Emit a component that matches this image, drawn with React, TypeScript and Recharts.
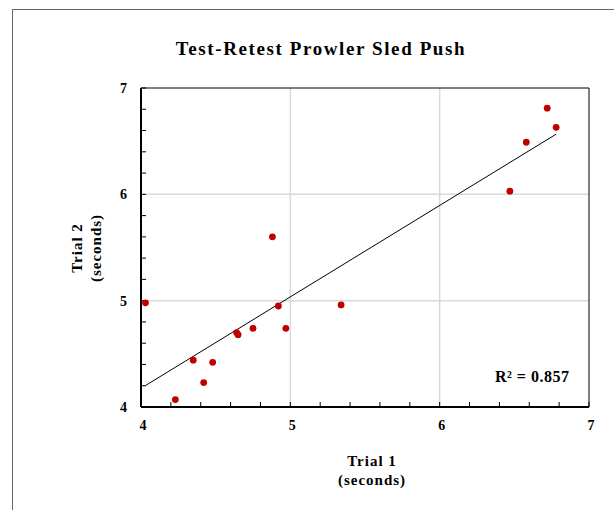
import React from 'react';
import { ScatterChart, Scatter, XAxis, YAxis, ReferenceLine } from 'recharts';

const trial1 = [4.03, 4.23, 4.35, 4.42, 4.48, 4.64, 4.65, 4.75, 4.88, 4.92, 4.97, 5.34, 6.47, 6.58, 6.72, 6.78];
const trial2 = [4.98, 4.07, 4.44, 4.23, 4.42, 4.70, 4.68, 4.74, 5.60, 4.95, 4.74, 4.96, 6.03, 6.49, 6.81, 6.63];

const xTicks = [4, 4.2, 4.4, 4.6, 4.8, 5, 5.2, 5.4, 5.6, 5.8, 6, 6.2, 6.4, 6.6, 6.8, 7];
const yTicks = [4, 4.2, 4.4, 4.6, 4.8, 5, 5.2, 5.4, 5.6, 5.8, 6, 6.2, 6.4, 6.6, 6.8, 7];
const gridValues = [5, 6];
const r2Label = 'R² = 0.857';

const FONT = '"Liberation Serif", "Times New Roman", serif';

const points = trial1.map((x, i) => ({ x, y: trial2[i] }));

// least squares fit for the trend line
const n = points.length;
const mx = trial1.reduce((a, b) => a + b, 0) / n;
const my = trial2.reduce((a, b) => a + b, 0) / n;
let sxy = 0;
let sxx = 0;
points.forEach(p => {
  sxy += (p.x - mx) * (p.y - my);
  sxx += (p.x - mx) * (p.x - mx);
});
const slope = sxy / sxx;
const intercept = my - slope * mx;
const xMin = Math.min(...trial1);
const xMax = Math.max(...trial1);
const trend = [
  { x: xMin, y: intercept + slope * xMin },
  { x: xMax, y: intercept + slope * xMax },
];

const isMajor = (v: number) => Math.abs(v - Math.round(v)) < 1e-6;

// ticks are drawn inward (tickSize < 0), so x/y here sit 5px inside the plot
const XTick = (props: any) => {
  const { x, y, payload } = props;
  return (
    <g>
      {isMajor(payload.value) && (
        <text x={x + 2} y={y + 28} textAnchor="middle" fontFamily={FONT} fontWeight="bold" fontSize={14} fill="#000">
          {Math.round(payload.value)}
        </text>
      )}
    </g>
  );
};

const YTick = (props: any) => {
  const { x, y, payload } = props;
  return (
    <g>
      {isMajor(payload.value) && (
        <text x={x - 19} y={y + 5} textAnchor="end" fontFamily={FONT} fontWeight="bold" fontSize={14} fill="#000">
          {Math.round(payload.value)}
        </text>
      )}
    </g>
  );
};

const Dot = (props: any) => <circle cx={props.cx} cy={props.cy} r={3.4} fill="#c00000" />;
const NoDot = () => <g />;

const App: React.FC = () => {
  return (
    <div style={{ position: 'absolute', left: 0, top: 0, width: 614, height: 510, background: '#fff', overflow: 'hidden' }}>
      <div style={{ position: 'absolute', left: 12, top: 9, width: 700, height: 600, border: '1px solid #666' }} />
      <div style={{ position: 'absolute', left: 0, top: 0 }}>
        <ScatterChart width={614} height={510} margin={{ top: 88, right: 25, bottom: 0, left: 0 }}>
          {gridValues.map(v => (
            <ReferenceLine key={'gx' + v} x={v} stroke="#d9d9d9" strokeWidth={1.5} />
          ))}
          {gridValues.map(v => (
            <ReferenceLine key={'gy' + v} y={v} stroke="#d9d9d9" strokeWidth={1.5} />
          ))}
          <ReferenceLine y={7} stroke="#000" strokeWidth={1} />
          <ReferenceLine x={7} stroke="#000" strokeWidth={1} />
          <XAxis
            type="number"
            dataKey="x"
            domain={[4, 7]}
            ticks={xTicks}
            interval={0}
            height={103}
            tickSize={-5}
            tickMargin={0}
            tickLine={{ stroke: '#000', strokeWidth: 1 }}
            tick={<XTick />}
            axisLine={{ stroke: '#000', strokeWidth: 2 }}
            allowDataOverflow
          />
          <YAxis
            type="number"
            dataKey="y"
            domain={[4, 7]}
            ticks={yTicks}
            interval={0}
            width={141}
            tickSize={-5}
            tickMargin={0}
            tickLine={{ stroke: '#000', strokeWidth: 1 }}
            tick={<YTick />}
            axisLine={{ stroke: '#000', strokeWidth: 2 }}
            allowDataOverflow
          />
          <Scatter data={trend} fill="#000" line={{ stroke: '#000', strokeWidth: 1 }} shape={<NoDot />} isAnimationActive={false} />
          <Scatter data={points} fill="#c00000" shape={<Dot />} isAnimationActive={false} />
        </ScatterChart>
      </div>
      <div style={{ position: 'absolute', left: 0, width: 642, top: 38, textAlign: 'center', fontFamily: FONT, fontWeight: 'bold', fontSize: 19, letterSpacing: 1.6, color: '#000', whiteSpace: 'nowrap' }}>
        Test-Retest Prowler Sled Push
      </div>
      <div style={{ position: 'absolute', left: 272, width: 200, top: 452, textAlign: 'center', fontFamily: FONT, fontWeight: 'bold', fontSize: 15, lineHeight: '19px', letterSpacing: 1, color: '#000' }}>
        Trial 1<br />(seconds)
      </div>
      <div
        style={{
          position: 'absolute', left: 87, top: 248, width: 200, marginLeft: -100, marginTop: -19,
          textAlign: 'center', fontFamily: FONT, fontWeight: 'bold', fontSize: 15, lineHeight: '19px', letterSpacing: 1, color: '#000',
          transform: 'rotate(-90deg)', transformOrigin: '100px 19px',
        }}
      >
        Trial 2<br />(seconds)
      </div>
      <div style={{ position: 'absolute', left: 495, top: 368, fontFamily: FONT, fontWeight: 'bold', fontSize: 16, letterSpacing: 0.5, color: '#000', whiteSpace: 'nowrap' }}>
        {r2Label}
      </div>
    </div>
  );
};

export default App;
